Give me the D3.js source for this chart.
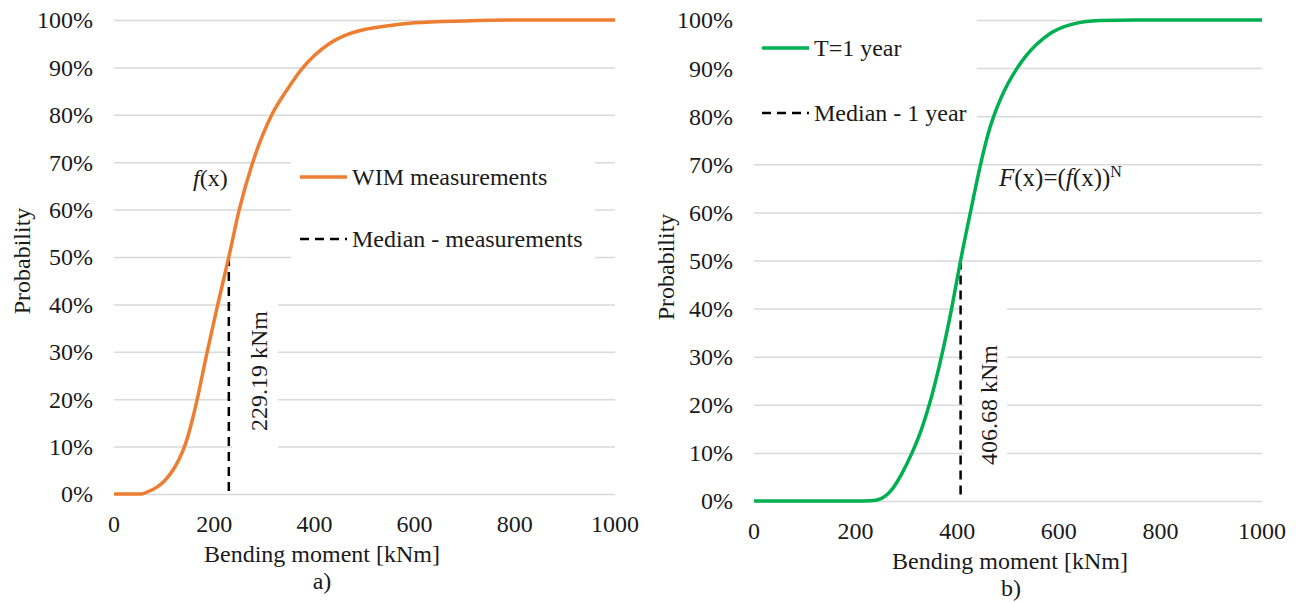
<!DOCTYPE html>
<html>
<head>
<meta charset="utf-8">
<script src="https://cdn.jsdelivr.net/npm/d3@7/dist/d3.min.js"></script>
<style>
  body { margin: 0; background: #fff; }
  svg text { font-family: "Liberation Serif", "Times New Roman", serif; fill: #1a1a1a; }
</style>
</head>
<body>
<svg id="chart" width="1296" height="602"></svg>
<script>
// Panel a) : WIM measurements
var momentA = [0, 55, 66, 85, 100, 112, 122, 131, 139, 147, 156, 165, 184, 206, 229.19, 250, 277, 315, 345, 375, 400, 431, 460, 500, 540, 600, 700, 800, 1000];
var probA   = [0, 0, 0.004, 0.014, 0.027, 0.042, 0.058, 0.076, 0.095, 0.12, 0.155, 0.195, 0.29, 0.395, 0.50, 0.60, 0.70, 0.80, 0.852, 0.897, 0.925, 0.951, 0.967, 0.98, 0.987, 0.994, 0.998, 1, 1];

// Panel b) : T = 1 year
var momentB = [0, 200, 230, 250, 270, 290, 311, 330, 345, 369, 389, 406.68, 426, 446, 460, 472, 485, 500, 518, 535, 555, 583, 622, 681, 750, 1000];
var probB   = [0, 0, 0.0005, 0.005, 0.022, 0.055, 0.10, 0.15, 0.20, 0.30, 0.40, 0.50, 0.60, 0.70, 0.76, 0.80, 0.835, 0.868, 0.90, 0.925, 0.948, 0.972, 0.99, 0.999, 1, 1];

var medianA = 229.19;
var medianB = 406.68;

var xTicks = [0, 200, 400, 600, 800, 1000];
var yTicks = [0, 0.1, 0.2, 0.3, 0.4, 0.5, 0.6, 0.7, 0.8, 0.9, 1];

window.Chart = new function() {
  var svg = d3.select('#chart');

  this.render = function() {
    drawPanel({
      left: 114, right: 615, top: 20, bottom: 494,
      moment: momentA, prob: probA, color: '#ED7D31',
      median: medianA, medianText: '229.19 kNm',
      medianBox: [232, 272, 46, 190], medianTextPos: [267, 371],
      legendBox: [291, 140, 304, 130], legendX: 300, legendY: [177, 239],
      legendText: ['WIM measurements', 'Median - measurements'],
      yTitle: [30, 261], xTitle: [322, 562], letter: [322, 589], letterText: 'a)'
    });
    drawPanel({
      left: 754, right: 1262, top: 20, bottom: 501,
      moment: momentB, prob: probB, color: '#00B050',
      median: medianB, medianText: '406.68 kNm',
      medianBox: [964, 272, 43, 205], medianTextPos: [997, 405],
      legendBox: [748, 4, 229, 136], legendX: 762, legendY: [48, 113],
      legendText: ['T=1 year', 'Median - 1 year'],
      yTitle: [674, 267], xTitle: [1010, 569], letter: [1011, 596], letterText: 'b)'
    });

    // formula labels
    var fa = svg.append('text').attr('x', 193).attr('y', 186).style('font-size', '24px');
    fa.append('tspan').attr('font-style', 'italic').text('f');
    fa.append('tspan').text('(x)');

    var fb = svg.append('text').attr('x', 999).attr('y', 186).style('font-size', '25px');
    fb.append('tspan').attr('font-style', 'italic').text('F');
    fb.append('tspan').text('(x)=(');
    fb.append('tspan').attr('font-style', 'italic').text('f');
    fb.append('tspan').text('(x))');
    fb.append('tspan').attr('dy', -9).style('font-size', '16px').text('N');
  };

  // PRIVATE

  var drawPanel = function(p) {
    var x = d3.scaleLinear().domain([0, 1000]).range([p.left, p.right]);
    var y = d3.scaleLinear().domain([0, 1]).range([p.bottom, p.top]);
    var g = svg.append('g');

    // gridlines
    g.append('g')
      .attr('transform', 'translate(' + p.left + ',0)')
      .call(d3.axisLeft(y).tickValues(yTicks).tickSize(-(p.right - p.left)).tickFormat(''))
      .call(function(a) { a.select('.domain').remove(); })
      .selectAll('line').attr('stroke', '#d9d9d9').attr('stroke-width', 1.5);

    // y tick labels
    g.selectAll('text.ytick')
      .data(yTicks)
      .enter().append('text')
      .attr('class', 'ytick')
      .attr('x', p.left - 21)
      .attr('y', function(d) { return y(d); })
      .attr('dy', '0.35em')
      .attr('text-anchor', 'end')
      .style('font-size', '24px')
      .text(d3.format('.0%'));

    // x tick labels
    g.selectAll('text.xtick')
      .data(xTicks)
      .enter().append('text')
      .attr('class', 'xtick')
      .attr('x', function(d) { return x(d); })
      .attr('y', p.bottom + 38)
      .attr('text-anchor', 'middle')
      .style('font-size', '24px')
      .text(function(d) { return d; });

    // legend background hides the gridlines behind it
    g.append('rect')
      .attr('x', p.legendBox[0]).attr('y', p.legendBox[1])
      .attr('width', p.legendBox[2]).attr('height', p.legendBox[3])
      .attr('fill', '#fff');

    // median label background
    g.append('rect')
      .attr('x', p.medianBox[0]).attr('y', p.medianBox[1])
      .attr('width', p.medianBox[2]).attr('height', p.medianBox[3])
      .attr('fill', '#fff');

    // median line
    g.append('line')
      .attr('x1', x(p.median)).attr('x2', x(p.median))
      .attr('y1', y(0.5)).attr('y2', y(0) - 2)
      .attr('stroke', '#000').attr('stroke-width', 2.5)
      .attr('stroke-dasharray', '9,6');

    // curve
    var line = d3.line()
      .x(function(d, i) { return x(p.moment[i]); })
      .y(function(d) { return y(d); })
      .curve(d3.curveMonotoneX);

    g.append('path')
      .datum(p.prob)
      .attr('d', line)
      .attr('fill', 'none')
      .attr('stroke', p.color)
      .attr('stroke-width', 3.5)
      .attr('stroke-linejoin', 'round');

    g.append('text')
      .attr('transform', 'translate(' + p.medianTextPos[0] + ',' + p.medianTextPos[1] + ') rotate(-90)')
      .attr('text-anchor', 'middle')
      .style('font-size', '24px')
      .text(p.medianText);

    // legend
    var items = g.selectAll('g.legend')
      .data(p.legendText)
      .enter().append('g')
      .attr('class', 'legend')
      .attr('transform', function(d, i) { return 'translate(' + p.legendX + ',' + p.legendY[i] + ')'; });

    items.append('line')
      .attr('x1', 0).attr('x2', 47)
      .attr('stroke', function(d, i) { return i === 0 ? p.color : '#000'; })
      .attr('stroke-width', function(d, i) { return i === 0 ? 3.5 : 2.5; })
      .attr('stroke-dasharray', function(d, i) { return i === 0 ? null : '9,6'; });

    items.append('text')
      .attr('x', 52)
      .attr('dy', '0.35em')
      .style('font-size', '24px')
      .text(function(d) { return d; });

    // axis titles
    g.append('text')
      .attr('transform', 'translate(' + p.yTitle[0] + ',' + p.yTitle[1] + ') rotate(-90)')
      .attr('text-anchor', 'middle')
      .style('font-size', '24px')
      .text('Probability');

    g.append('text')
      .attr('x', p.xTitle[0]).attr('y', p.xTitle[1])
      .attr('text-anchor', 'middle')
      .style('font-size', '24px')
      .text('Bending moment [kNm]');

    g.append('text')
      .attr('x', p.letter[0]).attr('y', p.letter[1])
      .attr('text-anchor', 'middle')
      .style('font-size', '24px')
      .text(p.letterText);
  };
};

Chart.render();
</script>
</body>
</html>
